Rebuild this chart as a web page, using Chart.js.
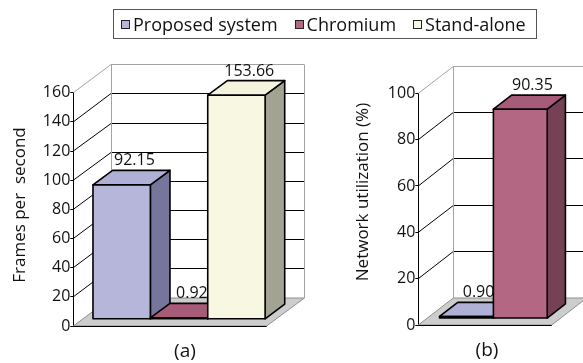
<!DOCTYPE html>
<html>
<head>
<meta charset="utf-8">
<title>Frame rate and network utilization</title>
<script src="https://cdn.jsdelivr.net/npm/chart.js@4.4.1/dist/chart.umd.min.js"></script>
<style>
  html, body { margin: 0; padding: 0; background: #fff; }
  #wrap { position: relative; width: 583px; height: 363px; overflow: hidden; font-family: "Open Sans", sans-serif; }
  #wrap canvas { position: absolute; left: 0; top: 0; }
  #legend {
    position: absolute; left: 113px; top: 9px; height: 30px; box-sizing: border-box;
    border: 1px solid #555; display: flex; align-items: center;
    padding: 0 10px 0 7px; font-size: 18px; color: #111; white-space: nowrap; z-index: 3;
  }
  #legend .item { display: flex; align-items: center; margin-right: 17px; }
  #legend .item:last-child { margin-right: 0; }
  #legend .sw { width: 9px; height: 9px; box-sizing: border-box; border: 1px solid #222; margin-right: 3px; }
</style>
</head>
<body>
<div id="wrap">
  <div id="legend"></div>
  <canvas id="fps" width="583" height="363"></canvas>
  <canvas id="net" width="583" height="363"></canvas>
</div>
<script>
// ---- data ----
const seriesNames = ['Proposed system', 'Chromium', 'Stand-alone'];
const fpsValues = [92.15, 0.92, 153.66];      // frames per second
const netValues = [0.90, 90.35];              // network utilization (%)
const fpsTicks = [0, 20, 40, 60, 80, 100, 120, 140, 160];
const netTicks = [0, 20, 40, 60, 80, 100];
const fpsTitle = 'Frames per  second';
const netTitle = 'Network utilization (%)';
const captions = ['(a)', '(b)'];

// face colours per series: front, right side, top
const frontColors = ['#b6b6da', '#b46783', '#f8f8e2'];
const sideColors  = ['#76769c', '#764155', '#a3a393'];
const topColors   = ['#b0b0d6', '#a85b79', '#f4f4dc'];

Chart.defaults.font.family = "'Open Sans', sans-serif";
Chart.defaults.color = '#111';

// ---- HTML legend ----
const legendEl = document.getElementById('legend');
seriesNames.forEach((name, i) => {
  const item = document.createElement('div');
  item.className = 'item';
  const sw = document.createElement('span');
  sw.className = 'sw';
  sw.style.background = frontColors[i];
  const tx = document.createElement('span');
  tx.textContent = name;
  item.appendChild(sw); item.appendChild(tx);
  legendEl.appendChild(item);
});

// ---- pseudo-3D box renderer (walls, floor, extruded columns) ----
function crisp(v) { return Math.round(v - 0.5) + 0.5; }

function poly(ctx, pts, fill) {
  ctx.beginPath();
  ctx.moveTo(pts[0][0], pts[0][1]);
  for (let k = 1; k < pts.length; k++) ctx.lineTo(pts[k][0], pts[k][1]);
  ctx.closePath();
  ctx.fillStyle = fill;
  ctx.fill();
  ctx.stroke();
}

const box3d = {
  id: 'box3d',
  beforeDatasetsDraw(chart, args, o) {
    const { ctx, chartArea: a } = chart;
    const ys = chart.scales.y;
    const dx = o.dx, dy = o.dy;
    ctx.save();
    ctx.lineWidth = 1;

    // floor
    ctx.beginPath();
    ctx.moveTo(a.left, a.bottom);
    ctx.lineTo(a.right, a.bottom);
    ctx.lineTo(a.right + dx, a.bottom - dy);
    ctx.lineTo(a.left + dx, a.bottom - dy);
    ctx.closePath();
    ctx.fillStyle = '#cdcdcd';
    ctx.fill();
    ctx.strokeStyle = '#8e8e8e';
    ctx.stroke();

    // side-wall diagonals and back-wall gridlines
    ys.ticks.forEach(t => {
      if (t.value === ys.min) return;
      const py = ys.getPixelForValue(t.value);
      const by = crisp(py - dy);
      ctx.strokeStyle = t.value === ys.max ? '#a3a3a3' : '#000';
      ctx.beginPath();
      ctx.moveTo(a.left, py);
      ctx.lineTo(a.left + dx, by);
      ctx.lineTo(a.right + dx, by);
      ctx.stroke();
    });

    // back wall vertical edges
    ctx.strokeStyle = '#a3a3a3';
    ctx.beginPath();
    ctx.moveTo(crisp(a.left + dx), a.top - dy);
    ctx.lineTo(crisp(a.left + dx), a.bottom - dy);
    ctx.moveTo(crisp(a.right + dx), a.top - dy);
    ctx.lineTo(crisp(a.right + dx), a.bottom - dy);
    ctx.stroke();

    // front edge of the floor
    ctx.strokeStyle = '#000';
    ctx.beginPath();
    ctx.moveTo(a.left, crisp(a.bottom));
    ctx.lineTo(a.right, crisp(a.bottom));
    ctx.stroke();
    ctx.restore();
  },

  afterDatasetsDraw(chart, args, o) {
    const { ctx, chartArea: a } = chart;
    const dx = o.dx, dy = o.dy;
    const ax = dx * o.f0, ay = -dy * o.f0;
    const bx = dx * o.f1, by = -dy * o.f1;
    const mx = dx * (o.f0 + o.f1) / 2, my = -dy * (o.f0 + o.f1) / 2;
    const labels = [];

    ctx.save();
    ctx.lineWidth = 1.6;
    ctx.lineJoin = 'round';
    ctx.strokeStyle = '#000';
    chart.data.datasets.forEach((ds, i) => {
      const meta = chart.getDatasetMeta(i);
      meta.data.forEach((el, j) => {
        const v = ds.data[j];
        if (v === null || v === undefined) return;
        const p = el.getProps(['x', 'y', 'base', 'width'], true);
        const l = p.x - p.width / 2, r = p.x + p.width / 2, t = p.y, b = p.base;
        const c = ds.colorIndex;
        // right side
        poly(ctx, [[r + ax, t + ay], [r + bx, t + by], [r + bx, b + by], [r + ax, b + ay]], sideColors[c]);
        // top
        poly(ctx, [[l + ax, t + ay], [l + bx, t + by], [r + bx, t + by], [r + ax, t + ay]], topColors[c]);
        // front
        poly(ctx, [[l + ax, t + ay], [r + ax, t + ay], [r + ax, b + ay], [l + ax, b + ay]], frontColors[c]);
        labels.push({ x: p.x + mx + 3, y: t + my - 17, text: v.toFixed(2) });
      });
    });

    // value labels
    ctx.fillStyle = '#111';
    ctx.font = "16px 'Open Sans', sans-serif";
    ctx.textAlign = 'center';
    ctx.textBaseline = 'middle';
    labels.forEach(lb => ctx.fillText(lb.text, lb.x, lb.y));

    // axis title (rotated)
    ctx.font = "17px 'Open Sans', sans-serif";
    ctx.save();
    ctx.translate(o.titleX, o.titleY);
    ctx.rotate(-Math.PI / 2);
    ctx.fillText(o.title, 0, 0);
    ctx.restore();

    // panel caption under the floor
    ctx.font = "19px 'Open Sans', sans-serif";
    ctx.fillText(o.caption, (a.left + a.right) / 2 + o.captionDx, a.bottom + 26);
    ctx.restore();
  }
};

function makeChart(id, values, ticks, g) {
  const datasets = values.map((v, i) => ({
    label: seriesNames[i],
    data: [v],
    colorIndex: i,
    backgroundColor: 'rgba(0,0,0,0)',
    borderWidth: 0
  }));
  return new Chart(document.getElementById(id), {
    type: 'bar',
    data: { labels: [g.caption], datasets },
    options: {
      responsive: false,
      animation: false,
      events: [],
      layout: { padding: { left: 0, right: g.padRight, top: g.padTop, bottom: g.padBottom } },
      datasets: { bar: { categoryPercentage: g.catPct, barPercentage: 1 } },
      plugins: {
        legend: { display: false },
        tooltip: { enabled: false },
        box3d: {
          dx: g.dx, dy: g.dy, f0: 0.24, f1: 0.76,
          title: g.title, titleX: g.titleX, titleY: g.titleY,
          caption: g.caption, captionDx: g.captionDx
        }
      },
      scales: {
        x: { display: false },
        y: {
          min: ticks[0],
          max: ticks[ticks.length - 1],
          afterBuildTicks: s => { s.ticks = ticks.map(v => ({ value: v })); },
          afterFit: s => { s.width = g.axisX; },
          grid: { drawOnChartArea: false, drawTicks: true, tickLength: 3, color: '#000', lineWidth: 1 },
          border: { display: true, color: '#000', width: 1 },
          ticks: { padding: 0, font: { size: 16 }, color: '#111' }
        }
      }
    },
    plugins: [box3d]
  });
}

makeChart('fps', fpsValues, fpsTicks, {
  axisX: 73.3, padRight: 316.3, padTop: 92.7, padBottom: 37,
  dx: 37.7, dy: 28, catPct: 0.89,
  title: fpsTitle, titleX: 20, titleY: 205,
  caption: captions[0], captionDx: 15
});

makeChart('net', netValues, netTicks, {
  axisX: 418.3, padRight: 31.3, padTop: 93.3, padBottom: 38,
  dx: 35, dy: 27, catPct: 0.807,
  title: netTitle, titleX: 363, titleY: 192,
  caption: captions[1], captionDx: 2
});
</script>
</body>
</html>
